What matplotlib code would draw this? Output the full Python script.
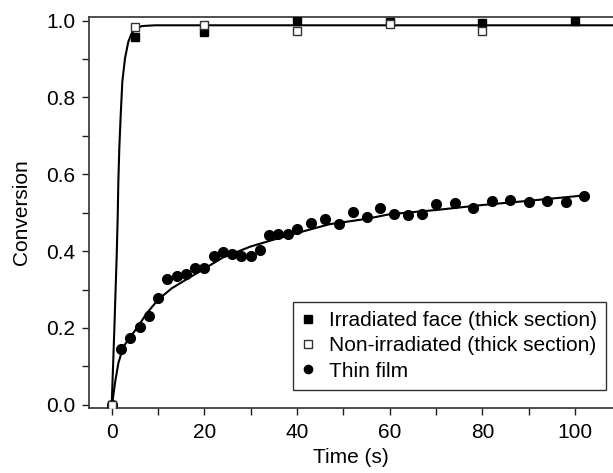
import numpy as np
import matplotlib
matplotlib.use("Agg")
import matplotlib.pyplot as plt
from matplotlib.ticker import MultipleLocator

plt.rcParams['font.family'] = ['Liberation Sans', 'DejaVu Sans']

# irradiated face (thick section)
t_irr = [0, 5, 20, 40, 60, 80, 100]
c_irr = [0.0, 0.958, 0.970, 0.999, 0.997, 0.995, 0.998]

# non-irradiated (thick section)
t_non = [0, 5, 20, 40, 60, 80]
c_non = [0.0, 0.983, 0.989, 0.974, 0.991, 0.974]

# thin film
t_thin = [0, 2, 4, 6, 8, 10, 12, 14, 16, 18, 20, 22, 24, 26, 28, 30, 32, 34, 36, 38, 40,
          43, 46, 49, 52, 55, 58, 61, 64, 67, 70, 74, 78, 82, 86, 90, 94, 98, 102]
c_thin = [0.0, 0.145, 0.175, 0.202, 0.230, 0.279, 0.327, 0.336, 0.341, 0.355, 0.355,
          0.386, 0.398, 0.392, 0.386, 0.388, 0.404, 0.442, 0.445, 0.444, 0.457,
          0.473, 0.483, 0.470, 0.503, 0.489, 0.511, 0.497, 0.494, 0.496, 0.522,
          0.525, 0.513, 0.530, 0.532, 0.527, 0.530, 0.529, 0.543]

# fitted curves
t_fit_thick = [0, 0.55, 1.08, 1.3, 1.43, 1.64, 1.94, 2.29, 2.87, 3.58, 4.3, 5.4, 6.5, 9.3, 108]
c_fit_thick = [0.0, 0.19, 0.39, 0.494, 0.58, 0.668, 0.754, 0.841, 0.902, 0.945, 0.967,
               0.980, 0.986, 0.988, 0.988]

t_fit_thin = [0, 0.13, 0.7, 1.43, 2.5, 3.95, 5.75, 7.55, 10.06, 12.95, 16.5, 20.1, 24.1,
              30, 35, 40, 47, 55, 60, 70, 80, 90, 102]
c_fit_thin = [0.0, 0.004, 0.056, 0.108, 0.151, 0.175, 0.205, 0.238, 0.274, 0.303, 0.329,
              0.355, 0.384, 0.412, 0.430, 0.447, 0.470, 0.484, 0.496, 0.507, 0.520,
              0.531, 0.545]

fig = plt.figure(figsize=(6.13, 4.73), dpi=100)
ax = fig.add_axes([0.1452, 0.1374, 0.8548, 0.8273])

ax.plot(t_fit_thick, c_fit_thick, color='black', lw=1.5, zorder=2)
ax.plot(t_fit_thin, c_fit_thin, color='black', lw=1.5, zorder=2)

ax.plot(t_irr, c_irr, ls='none', marker='s', ms=6, mfc='black', mec='black',
        label='Irradiated face (thick section)', zorder=3)
ax.plot(t_non, c_non, ls='none', marker='s', ms=6, mfc='white', mec='#333333', mew=1.0,
        label='Non-irradiated (thick section)', zorder=4)
ax.plot(t_thin, c_thin, ls='none', marker='o', ms=7, mfc='black', mec='black',
        label='Thin film', zorder=3)

ax.set_xlim(-4.9, 108.2)
ax.set_ylim(-0.0086, 1.0104)
ax.xaxis.set_major_locator(MultipleLocator(20))
ax.xaxis.set_minor_locator(MultipleLocator(10))
ax.yaxis.set_major_locator(MultipleLocator(0.2))
ax.yaxis.set_minor_locator(MultipleLocator(0.1))
ax.yaxis.set_major_formatter(plt.FuncFormatter(lambda v, p: "%.1f" % v))

for s in ['left', 'bottom', 'top']:
    ax.spines[s].set_color('#404040')
    ax.spines[s].set_linewidth(1.3)
ax.spines['right'].set_visible(False)

ax.tick_params(which='both', direction='out', color='#202020', width=1.0, labelsize=15, pad=5)
ax.tick_params(which='major', length=5)
ax.tick_params(which='minor', length=5)
ax.tick_params(axis='x', top=False, pad=6)

ax.set_xlabel("Time (s)", fontsize=15, labelpad=4)
ax.set_ylabel("Conversion", fontsize=15, labelpad=11)

leg = ax.legend(loc='lower right', bbox_to_anchor=(0.9866, 0.046), fontsize=15,
                frameon=True, fancybox=False, edgecolor='black', handlelength=0.5,
                handletextpad=0.75, borderpad=0.45, labelspacing=0.3, borderaxespad=0,
                markerscale=0.85)
leg.get_frame().set_linewidth(1.0)

fig.savefig("out.png", dpi=100)
